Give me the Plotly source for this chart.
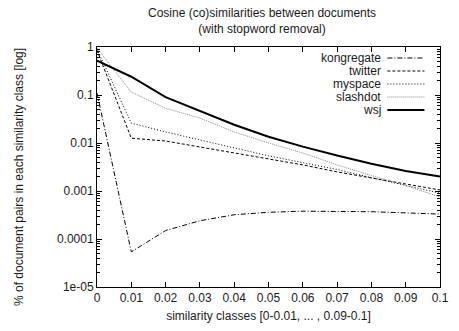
import plotly.graph_objects as go

# similarity classes (lower bound of each bin)
classes = [0.0, 0.01, 0.02, 0.03, 0.04, 0.05, 0.06, 0.07, 0.08, 0.09, 0.1]

kongregate = [0.11, 5.4e-5, 1.5e-4, 2.4e-4, 3.2e-4, 3.6e-4, 3.8e-4, 3.8e-4, 3.7e-4, 3.5e-4, 3.3e-4]
twitter = [0.85, 0.0126, 0.011, 0.0083, 0.0062, 0.0047, 0.0035, 0.0025, 0.0019, 0.0014, 0.00105]
myspace = [0.9, 0.026, 0.017, 0.0116, 0.0078, 0.0054, 0.0039, 0.0028, 0.0019, 0.0013, 0.0009]
slashdot = [0.95, 0.115, 0.053, 0.033, 0.017, 0.010, 0.0062, 0.0035, 0.0021, 0.0013, 0.00075]
wsj = [0.52, 0.24, 0.09, 0.046, 0.024, 0.0135, 0.0084, 0.0055, 0.0037, 0.0026, 0.002]

x_tickvals = classes
x_ticktext = ["0", "0.01", "0.02", "0.03", "0.04", "0.05", "0.06", "0.07", "0.08", "0.09", "0.1"]
y_tickvals = [1, 0.1, 0.01, 0.001, 0.0001, 0.00001]
y_ticktext = ["1", "0.1", "0.01", "0.001", "0.0001", "1e-05"]

FONT = "Liberation Sans, Arial, Helvetica, sans-serif"
TXT = "#1a1a1a"

series = [
    ("kongregate", kongregate, dict(color="black", width=1, dash="5px,2px,1px,2px")),
    ("twitter", twitter, dict(color="black", width=1, dash="3px,2px")),
    ("myspace", myspace, dict(color="black", width=1, dash="1px,2px")),
    ("slashdot", slashdot, dict(color="#8a8a8a", width=1, dash="1px,1px")),
    ("wsj", wsj, dict(color="black", width=2)),
]

fig = go.Figure()
for name, vals, line in series:
    # wsj is bound to the right-hand copy of the (identical) log axis
    axis = "y2" if name == "wsj" else "y"
    fig.add_trace(go.Scatter(x=classes, y=vals, mode="lines", name=name,
                             line=line, showlegend=False, yaxis=axis))

# plot area in pixels
L, R, T, B = 97, 449, 47, 287
W, H = 459, 331


def px(xp):
    return (xp - L) / (R - L)


def py(yp):
    return (B - yp) / (B - T)


annotations = []
shapes = []

# key placed inside the top-right corner, label left of the line sample
key_rows = [58, 71, 84, 97, 110]
for (name, vals, line), yrow in zip(series, key_rows):
    annotations.append(dict(x=px(390), y=py(yrow), xref="paper", yref="paper",
                            text=name, showarrow=False, xanchor="right", yanchor="middle",
                            font=dict(family=FONT, size=12, color=TXT)))
    shapes.append(dict(type="line", xref="paper", yref="paper",
                       x0=px(395), x1=px(433), y0=py(yrow), y1=py(yrow),
                       line=line))

# two-line title
annotations.append(dict(x=px(266), y=py(21), xref="paper", yref="paper",
                        text="Cosine (co)similarities between documents<br>(with stopword removal)",
                        showarrow=False, xanchor="center", yanchor="middle",
                        font=dict(family=FONT, size=12, color=TXT)))

# vertical axis title
annotations.append(dict(x=px(17), y=py(177), xref="paper", yref="paper",
                        text="% of document pairs in each similarity class [log]",
                        showarrow=False, textangle=-90, xanchor="center", yanchor="middle",
                        font=dict(family=FONT, size=12, color=TXT)))

fig.update_layout(
    width=W, height=H,
    margin=dict(l=L, r=W - R, t=T, b=H - B, pad=0),
    paper_bgcolor="white", plot_bgcolor="white",
    font=dict(family=FONT, size=12, color=TXT),
    annotations=annotations,
    shapes=shapes,
)

fig.update_xaxes(
    range=[0, 0.1], tickvals=x_tickvals, ticktext=x_ticktext,
    ticks="inside", ticklen=5, tickcolor="black", tickwidth=1,
    showline=True, linecolor="black", linewidth=1, mirror="ticks",
    showgrid=False, zeroline=False,
    tickfont=dict(family=FONT, size=12, color=TXT),
    title=dict(text="similarity classes [0-0.01, ... , 0.09-0.1]",
               font=dict(family=FONT, size=12, color=TXT), standoff=7),
)

yaxis_style = dict(
    type="log", range=[-5, 0], tickvals=y_tickvals,
    ticks="inside", ticklen=5, tickcolor="black", tickwidth=1,
    showgrid=False, zeroline=False,
    minor=dict(ticks="inside", ticklen=3, tickcolor="black", dtick="D1", showgrid=False),
)

fig.update_layout(
    yaxis=dict(**yaxis_style, ticktext=y_ticktext,
               showline=True, linecolor="black", linewidth=1, mirror=True,
               tickfont=dict(family=FONT, size=12, color=TXT)),
    # right-hand copy of the log scale so the minor ticks appear on both sides
    yaxis2=dict(**yaxis_style, overlaying="y", side="right", showticklabels=False,
                showline=False),
)

fig.write_html("out.html")
